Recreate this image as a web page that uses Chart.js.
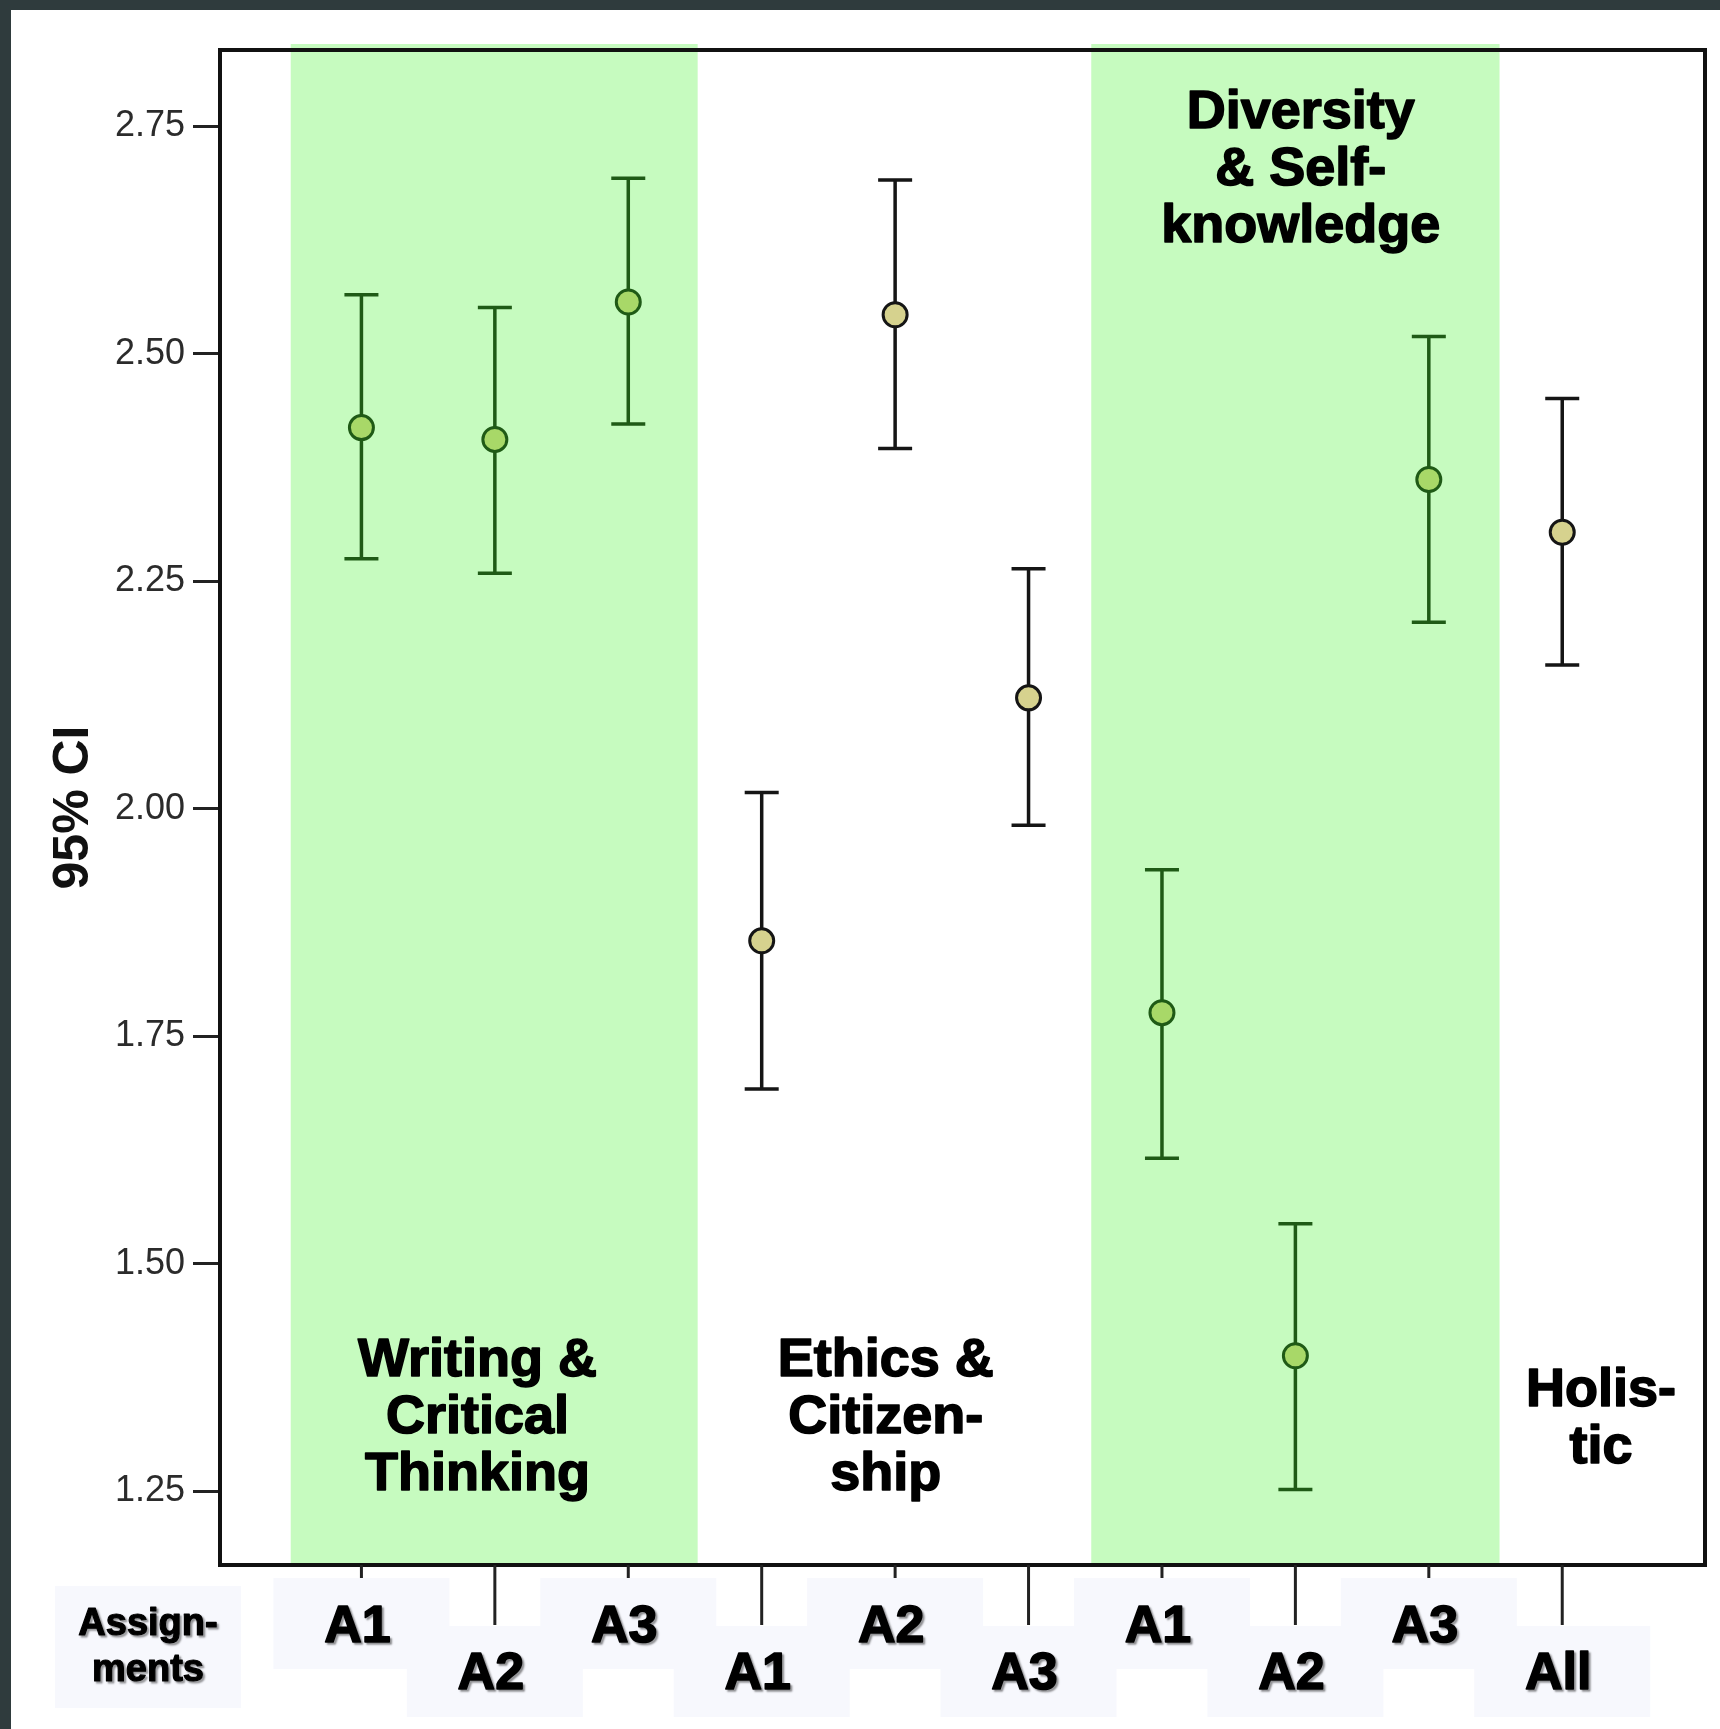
<!DOCTYPE html>
<html>
<head>
<meta charset="utf-8">
<title>95% CI by assignment</title>
<script src="https://cdn.jsdelivr.net/npm/chart.js@4"></script>
<style>
  html, body { margin: 0; padding: 0; background: #fff; }
  canvas { display: block; }
</style>
</head>
<body>
<canvas id="chart" width="1720" height="1729"></canvas>
<script>
// ── Data ─────────────────────────────────
const labels   = ['A1', 'A2', 'A3', 'A1', 'A2', 'A3', 'A1', 'A2', 'A3', 'All'];
const groups   = ['wct', 'wct', 'wct', 'eth', 'eth', 'eth', 'div', 'div', 'div', 'hol'];
const means    = [2.419, 2.406, 2.557, 1.855, 2.543, 2.122, 1.776, 1.399, 2.362, 2.304];
const upper    = [2.565, 2.551, 2.693, 2.018, 2.691, 2.264, 1.933, 1.544, 2.519, 2.451];
const lower    = [2.275, 2.259, 2.423, 1.692, 2.396, 1.982, 1.616, 1.252, 2.205, 2.158];
const yTicks   = [1.25, 1.50, 1.75, 2.00, 2.25, 2.50, 2.75];

// shaded groups (index ranges) and the text written in each group
const bands    = [[-0.53, 2.52], [5.47, 8.53]];
const groupText = [
  { at: 0.87, v: 1.33, lines: ['Writing &', 'Critical', 'Thinking'] },
  { at: 3.93, v: 1.33, lines: ['Ethics &', 'Citizen-', 'ship'] },
  { at: 7.04, v: 2.702, lines: ['Diversity', '& Self-', 'knowledge'] },
  { at: 9.29, v: 1.329, lines: ['Holis-', 'tic'] }
];

const isGreen = g => g === 'wct' || g === 'div';

// ── Colours ──────────────────────────────
const BAND      = '#c6fbbf';
const G_FILL    = '#a8d868';
const G_LINE    = '#1f5a16';
const T_FILL    = '#d6d28e';
const T_LINE    = '#151515';
const LABEL_BOX = '#f7f8fd';
const FONT      = '"Liberation Sans", Arial, sans-serif';

// heavy text: fill plus a thin stroke of the same colour
function heavyText(ctx, txt, x, y, w) {
  ctx.fillText(txt, x, y);
  ctx.lineWidth = w;
  ctx.strokeText(txt, x, y);
}

// ── Plugin: frame, bands, error bars, labels ─
const decor = {
  id: 'decor',
  beforeDraw(chart) {
    const { ctx, width, height } = chart;
    ctx.save();
    ctx.fillStyle = '#fff';
    ctx.fillRect(0, 0, width, height);
    ctx.fillStyle = '#2f3b3d';
    ctx.fillRect(0, 0, width, 10);
    ctx.fillRect(0, 0, 11, height);
    ctx.restore();
  },
  beforeDatasetsDraw(chart) {
    const { ctx, chartArea: a, scales: { x, y } } = chart;
    ctx.save();

    // green bands
    ctx.fillStyle = BAND;
    bands.forEach(([s, e]) => {
      const x0 = x.getPixelForValue(s), x1 = x.getPixelForValue(e);
      ctx.fillRect(x0, a.top - 6, x1 - x0, a.bottom - a.top + 6);
    });

    // plot frame
    ctx.strokeStyle = '#111';
    ctx.lineWidth = 4;
    ctx.strokeRect(a.left, a.top, a.right - a.left, a.bottom - a.top);

    // group titles
    ctx.fillStyle = '#000';
    ctx.strokeStyle = '#000';
    ctx.lineJoin = 'round';
    ctx.font = `bold 54px ${FONT}`;
    ctx.textAlign = 'center';
    ctx.textBaseline = 'middle';
    groupText.forEach(t => {
      const cx = x.getPixelForValue(t.at);
      const cy = y.getPixelForValue(t.v);
      t.lines.forEach((ln, i) => heavyText(ctx, ln, cx, cy + (i - (t.lines.length - 1) / 2) * 57, 1.6));
    });

    // error bars
    ctx.lineWidth = 3.5;
    means.forEach((m, i) => {
      const px = x.getPixelForValue(i);
      const hi = y.getPixelForValue(upper[i]);
      const lo = y.getPixelForValue(lower[i]);
      ctx.strokeStyle = isGreen(groups[i]) ? G_LINE : T_LINE;
      ctx.beginPath();
      ctx.moveTo(px, hi); ctx.lineTo(px, lo);
      ctx.moveTo(px - 17, hi); ctx.lineTo(px + 17, hi);
      ctx.moveTo(px - 17, lo); ctx.lineTo(px + 17, lo);
      ctx.stroke();
    });
    ctx.restore();
  },
  afterDraw(chart) {
    const { ctx, chartArea: a, scales: { x } } = chart;
    ctx.save();

    // y title
    ctx.translate(74, (a.top + a.bottom) / 2);
    ctx.rotate(-Math.PI / 2);
    ctx.fillStyle = '#111';
    ctx.font = `bold 50px ${FONT}`;
    ctx.textAlign = 'center';
    ctx.textBaseline = 'middle';
    ctx.fillText('95% CI', 0, 0);
    ctx.setTransform(1, 0, 0, 1, 0, 0);

    // x ticks
    ctx.strokeStyle = '#222';
    ctx.lineWidth = 3;
    labels.forEach((_, i) => {
      const px = x.getPixelForValue(i);
      ctx.beginPath();
      ctx.moveTo(px, a.bottom);
      ctx.lineTo(px, a.bottom + 60);
      ctx.stroke();
    });

    // label boxes (two staggered rows)
    const row1 = a.bottom + 13, row2 = a.bottom + 61, boxH = 91;
    ctx.fillStyle = LABEL_BOX;
    ctx.fillRect(55, a.bottom + 21, 186, 122);
    labels.forEach((_, i) => {
      const px = x.getPixelForValue(i);
      ctx.fillRect(px - 88, i % 2 ? row2 : row1, 176, boxH);
    });

    // label text
    ctx.fillStyle = '#000';
    ctx.strokeStyle = '#000';
    ctx.lineJoin = 'round';
    ctx.textAlign = 'center';
    ctx.textBaseline = 'middle';
    ctx.shadowColor = 'rgba(0,0,0,0.35)';
    ctx.shadowOffsetX = 2;
    ctx.shadowOffsetY = 2;
    ctx.shadowBlur = 2;
    ctx.font = `bold 38px ${FONT}`;
    heavyText(ctx, 'Assign-', 148, a.bottom + 60, 1.2);
    heavyText(ctx, 'ments', 148, a.bottom + 106, 1.2);
    ctx.font = `bold 52px ${FONT}`;
    labels.forEach((lab, i) => {
      const px = x.getPixelForValue(i);
      heavyText(ctx, lab, px - 4, a.bottom + (i % 2 ? 110 : 63), 1.6);
    });
    ctx.restore();
  }
};

// ── Chart ────────────────────────────────
new Chart(document.getElementById('chart'), {
  type: 'scatter',
  data: {
    datasets: [{
      data: means.map((m, i) => ({ x: i, y: m })),
      pointRadius: 12,
      pointHoverRadius: 12,
      pointBorderWidth: 3,
      pointBackgroundColor: groups.map(g => isGreen(g) ? G_FILL : T_FILL),
      pointBorderColor: groups.map(g => isGreen(g) ? G_LINE : T_LINE),
      showLine: false
    }]
  },
  options: {
    responsive: false,
    animation: false,
    devicePixelRatio: 1,
    layout: { padding: { top: 50, right: 14, bottom: 164, left: 0 } },
    plugins: { legend: { display: false }, tooltip: { enabled: false } },
    scales: {
      x: { type: 'linear', min: -1.06, max: 10.07, display: false },
      y: {
        min: 1.169,
        max: 2.834,
        afterBuildTicks: s => { s.ticks = yTicks.map(v => ({ value: v })); },
        afterFit: s => { s.width = 220; },
        border: { display: false },
        grid: { drawOnChartArea: false, tickLength: 27, tickWidth: 3, tickColor: '#222' },
        ticks: {
          padding: 8,
          color: '#2b2b2b',
          font: { family: FONT, size: 36 },
          callback: v => Number(v).toFixed(2)
        }
      }
    }
  },
  plugins: [decor]
});
</script>
</body>
</html>
